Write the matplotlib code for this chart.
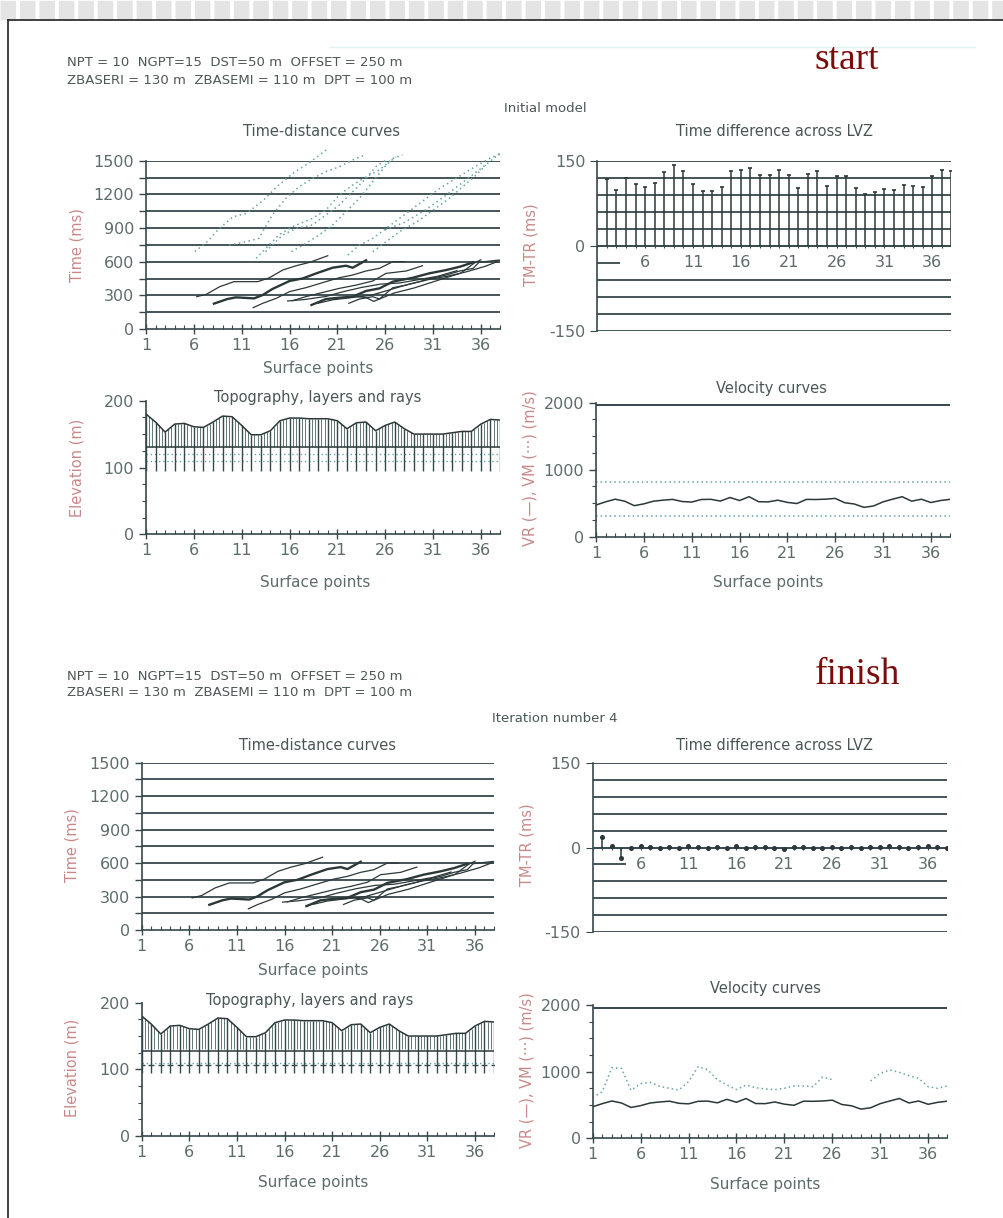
import numpy as np
import matplotlib
matplotlib.use("Agg")
import matplotlib.pyplot as plt
from matplotlib.lines import Line2D

W, H = 1004, 1218

# ---------------- data ----------------
surface_points = list(range(1, 39))
xtick_vals = [1, 6, 11, 16, 21, 26, 31, 36]

# observed first-break time-distance curves (surface point, ms)
obs1_x = [6.3, 7.3, 8.7, 10.2, 12.7, 13.9, 15.3, 16.7, 18.1, 20.0]
obs1_t = [288, 309, 377, 422, 422, 457, 526, 564, 594, 653]
obs2_x = [8.1, 9.5, 10.4, 12.3, 13.2, 14.2, 16.0, 17.4, 18.8, 20.5, 21.9, 22.6, 24.0]
obs2_t = [226, 267, 282, 273, 303, 356, 428, 451, 496, 546, 564, 546, 612]
obs3_x = [12.2, 13.2, 14.6, 16.0, 17.7, 19.8, 21.2, 22.6, 24.0, 25.4, 26.8, 28.0]
obs3_t = [190, 229, 273, 333, 368, 422, 457, 481, 517, 541, 600, 600]
obs4_x = [16.3, 17.7, 19.1, 21.2, 23.0, 24.7, 26.1, 28.2, 29.9]
obs4_t = [252, 288, 318, 362, 392, 428, 496, 517, 564]
obs5_x = [18.3, 19.8, 21.2, 22.6, 24.0, 25.4, 26.8, 28.9, 30.6, 32.4, 33.8, 35.2]
obs5_t = [214, 267, 279, 288, 339, 362, 422, 457, 496, 526, 555, 594]
obs6_x = [22.2, 23.3, 24.7, 25.4, 26.8, 28.2, 29.6, 31.0, 32.4, 33.8, 35.2, 35.8, 37.9]
obs6_t = [229, 267, 288, 267, 368, 392, 422, 457, 481, 517, 541, 594, 615]
obs7_x = [23.0, 24.0, 24.8, 26.9, 29.0, 31.7, 33.9, 35.3, 36.0]
obs7_t = [290, 280, 246, 320, 365, 439, 498, 587, 617]
obs8_x = [15.8, 17.5, 19.8, 21.5, 23.5, 25.5, 27.5, 29.5, 31.5, 33.5]
obs8_t = [250, 262, 290, 330, 370, 400, 410, 440, 470, 520]
obs9_x = [19.0, 20.5, 22.5, 24.5, 26.5, 28.5, 30.5, 32.5, 34.5, 36.5, 38.0]
obs9_t = [230, 260, 280, 300, 350, 400, 440, 470, 510, 560, 610]
thick_curves = [2, 5]

# initial-model computed times (dotted, start only)
mod1_x = [6.1, 7.3, 8.7, 10.1, 11.5, 13.3, 14.7, 16.4, 18.2, 19.9]
mod1_t = [690, 770, 900, 1000, 1030, 1150, 1270, 1390, 1490, 1600]
mod2_x = [9.7, 11.5, 12.8, 14.2, 15.6, 17.0, 18.4, 19.8, 21.2, 22.6, 24.0]
mod2_t = [748, 778, 808, 1016, 1164, 1268, 1342, 1402, 1446, 1506, 1556]
mod3_x = [12.5, 14.9, 16.3, 18.4, 19.8, 21.2, 22.6, 24.0, 25.4, 26.8, 27.8]
mod3_t = [630, 838, 912, 986, 1060, 1194, 1283, 1357, 1417, 1520, 1550]
mod4_x = [13.5, 15.3, 16.7, 18.4, 19.8, 21.2, 22.6, 24.0, 25.0, 26.1]
mod4_t = [689, 838, 897, 927, 1016, 1105, 1224, 1342, 1446, 1506]
mod5_x = [16.2, 17.7, 19.1, 20.5, 21.9, 23.3, 24.7, 26.1, 27.1]
mod5_t = [689, 763, 838, 927, 1045, 1164, 1313, 1461, 1535]
mod6_x = [22.1, 23.3, 24.7, 26.1, 27.5, 28.9, 30.3, 31.7, 33.4, 35.1, 36.9, 38.0]
mod6_t = [659, 748, 808, 897, 986, 1075, 1164, 1253, 1342, 1432, 1520, 1560]
mod7_x = [24.7, 26.1, 27.5, 29.6, 31.0, 32.7, 34.1, 35.5, 36.5]
mod7_t = [689, 778, 867, 971, 1060, 1164, 1268, 1372, 1461]
mod8_x = [26.0, 28.0, 30.0, 32.0, 34.0, 36.0, 38.0]
mod8_t = [883, 950, 1050, 1170, 1300, 1430, 1565]

# time difference across LVZ at surface points 2..38 (ms)
tdiff_points = surface_points[1:]
tdiff_start = [117, 98, 119, 109, 104, 110, 130, 142, 131, 109, 96, 97, 103, 131,
               133, 138, 124, 124, 133, 125, 102, 126, 131, 106, 123, 123, 102, 92,
               95, 100, 99, 107, 106, 103, 123, 133, 131]
tdiff_finish = [18, 2, -18, 0, 2, 1, 0, 1, 0, 2, 1, 0, 1, 0, 2, 0, 1, 1, 0, -2, 1,
                1, 0, 0, 1, 0, 1, 0, 1, 1, 2, 1, 0, 1, 2, 1, 0]

# topography (m)
topography = [180, 168, 153, 165, 166, 161, 160, 168, 177, 176, 163, 149, 149, 155,
              170, 174, 174, 173, 173, 173, 170, 158, 167, 168, 155, 163, 168, 158,
              150, 150, 150, 150, 152, 154, 154, 165, 172, 171]
zbaseri = 130
zbasemi = 110
z_start_mid = 120
ray_bottom = 95

# velocities (m/s)
vr = [473, 520, 560, 530, 463, 490, 530, 545, 557, 525, 517, 555, 558, 532, 585,
      540, 597, 522, 520, 545, 512, 495, 557, 555, 560, 572, 507, 488, 438, 458,
      520, 560, 597, 530, 560, 510, 540, 557]
vm_finish = [610, 700, 1060, 1050, 720, 820, 840, 780, 750, 725, 850, 1075, 1030,
             880, 800, 730, 800, 760, 740, 730, 750, 785, 785, 775, 920, 880,
             np.nan, np.nan, np.nan, 860, 975, 1025, 990, 940, 900, 775, 750, 785]
vm_start_high = 810
vm_start_low = 305
vh_level = 1960

obs_curves = [(obs1_x, obs1_t), (obs2_x, obs2_t), (obs3_x, obs3_t), (obs4_x, obs4_t),
              (obs5_x, obs5_t), (obs6_x, obs6_t), (obs7_x, obs7_t), (obs8_x, obs8_t),
              (obs9_x, obs9_t)]
mod_curves = [(mod1_x, mod1_t), (mod2_x, mod2_t), (mod3_x, mod3_t), (mod4_x, mod4_t),
              (mod5_x, mod5_t), (mod6_x, mod6_t), (mod7_x, mod7_t), (mod8_x, mod8_t)]

# ---------------- style ----------------
LINE = "#36484a"
TXT = "#5f6c6c"
YLAB = "#c98888"
TITLE = "#4a5656"
DOTC = "#6aa3a6"
FONT = "DejaVu Sans"
plt.rcParams["font.family"] = FONT

fig = plt.figure(figsize=(W / 100, H / 100), dpi=100)
fig.patch.set_facecolor("white")


def px_axes(x0, ytop, x1, ybot):
    return fig.add_axes([x0 / W, 1 - ybot / H, (x1 - x0) / W, (ybot - ytop) / H])


def ftext(x, y, s, **kw):
    kw.setdefault("ha", "center")
    kw.setdefault("va", "center")
    fig.text(x / W, 1 - y / H, s, **kw)


def base_style(ax, ylim, yticks, ylabels, yminor=None):
    ax.set_xlim(1, 38)
    ax.set_ylim(*ylim)
    for s in ["top", "right"]:
        ax.spines[s].set_visible(False)
    for s in ["left", "bottom"]:
        ax.spines[s].set_color(LINE)
        ax.spines[s].set_linewidth(1.2)
    ax.set_xticks(xtick_vals)
    ax.set_xticklabels([str(v) for v in xtick_vals])
    ax.set_xticks(surface_points, minor=True)
    ax.set_yticks(yticks)
    ax.set_yticklabels(ylabels)
    if yminor is not None:
        ax.set_yticks(yminor, minor=True)
    ax.tick_params(axis="both", which="major", colors=LINE, labelcolor=TXT,
                   labelsize=11.5, length=5, width=1.0)
    ax.tick_params(axis="x", which="major", direction="inout", length=7, pad=3)
    ax.tick_params(axis="x", which="minor", direction="in", length=3, width=0.8,
                   color=LINE)
    ax.tick_params(axis="y", which="minor", direction="out", length=3, width=0.8,
                   color=LINE)
    ax.set_facecolor("none")


def time_distance(ax, with_model):
    base_style(ax, (0, 1500), list(range(0, 1501, 150)),
               [str(v) if v % 300 == 0 else "" for v in range(0, 1501, 150)])
    for v in range(150, 1501, 150):
        ax.axhline(v, color=LINE, lw=1.3, zorder=1)
    for i, (cx, ct) in enumerate(obs_curves, start=1):
        ax.plot(cx, ct, color="#2c3838", lw=1.7 if i in thick_curves else 0.9,
                zorder=3)
    if with_model:
        for cx, ct in mod_curves:
            ax.plot(cx, ct, color=DOTC, lw=1.1, ls=(0, (1, 2.2)), zorder=2,
                    clip_on=False)


def time_diff(ax, vals, finish, gap_end):
    ax.set_xlim(1, 38)
    ax.set_ylim(-150, 150)
    for s in ["top", "right", "bottom"]:
        ax.spines[s].set_visible(False)
    ax.spines["left"].set_color(LINE)
    ax.spines["left"].set_linewidth(1.2)
    ax.set_xticks([])
    ax.set_yticks([-150, 0, 150])
    ax.set_yticklabels(["-150", "0", "150"])
    ax.tick_params(axis="y", colors=LINE, labelcolor=TXT, labelsize=11.5, length=5)
    ax.set_facecolor("none")
    for v in [-150, -120, -90, -60, 30, 60, 90, 120, 150]:
        ax.axhline(v, color=LINE, lw=1.3, zorder=1)
    ax.hlines(-30, 1, gap_end, color=LINE, lw=1.3)
    ax.axhline(0, color=LINE, lw=1.4, zorder=2)
    ax.vlines(surface_points, 0, -4, color=LINE, lw=0.8)
    ax.vlines(tdiff_points, 0, vals, color="#2c3838", lw=1.1, zorder=3)
    if finish:
        ax.plot(tdiff_points, vals, ls="none", marker="o", ms=2.6, color="#2c3838",
                zorder=4)
    else:
        ax.plot(tdiff_points, vals, ls="none", marker="_", ms=3, mew=1.2,
                color="#2c3838", zorder=4)
    for v in xtick_vals[1:]:
        ax.text(v, -30, str(v), ha="center", va="center", fontsize=11.5, color=TXT,
                zorder=5)


def topo_panel(ax, finish):
    base_style(ax, (0, 200), [0, 100, 200], ["0", "100", "200"],
               yminor=list(range(0, 201, 25)))
    ax.plot(surface_points, topography, color="#2c3838", lw=1.1, zorder=4)
    ax.hlines(zbaseri if not finish else zbaseri - 2, 1, 38, color="#2c3838",
              lw=1.1, zorder=4)
    ax.hlines(zbasemi, 1, 38, color=DOTC, lw=1.0, ls=(0, (1, 2)), zorder=3)
    if not finish:
        ax.hlines(z_start_mid, 1, 38, color=DOTC, lw=1.0, ls=(0, (1, 2)), zorder=3)
    ax.vlines(surface_points, ray_bottom, topography, color="#34494b", lw=1.0,
              zorder=3)
    sp = np.array(surface_points, dtype=float)
    for frac in (0.33, 0.66):
        xr = sp[:-1] + frac
        ax.vlines(xr, zbaseri, np.interp(xr, sp, topography), color="#4b5f61",
                  lw=0.6, zorder=2)
    if finish:
        ax.plot(surface_points, [zbasemi - 3] * len(surface_points), ls="none",
                marker="_", ms=5, mew=1.0, color="#34494b", zorder=4)


def vel_panel(ax, vm):
    base_style(ax, (0, 2000), [0, 1000, 2000], ["0", "1000", "2000"],
               yminor=list(range(0, 2001, 250)))
    ax.axhline(vh_level, color=LINE, lw=1.4)
    ax.plot(surface_points, vr, color="#2c3838", lw=1.1, zorder=3)
    if vm is None:
        ax.axhline(vm_start_high, color=DOTC, lw=1.1, ls=(0, (1, 2)))
        ax.axhline(vm_start_low, color=DOTC, lw=1.1, ls=(0, (1, 2)))
    else:
        ax.plot(surface_points, vm, color=DOTC, lw=1.1, ls=(0, (1, 2)))


# ---------------- top block ("start") ----------------
ax = px_axes(146, 160.7, 500, 329)
time_distance(ax, True)
ax = px_axes(597.3, 160.7, 951.5, 330.7)
time_diff(ax, tdiff_start, False, 3.4)
ax = px_axes(146, 400.7, 500, 534.3)
topo_panel(ax, False)
ax = px_axes(596, 402.7, 950, 536.7)
vel_panel(ax, None)

# ---------------- bottom block ("finish") ----------------
ax = px_axes(141.7, 762.7, 494, 930)
time_distance(ax, False)
ax = px_axes(592.7, 763.3, 946.7, 931.7)
time_diff(ax, tdiff_finish, True, 4.5)
ax = px_axes(141.7, 1002.7, 494, 1136)
topo_panel(ax, True)
ax = px_axes(592.7, 1005, 947.3, 1138.3)
vel_panel(ax, vm_finish)

# ---------------- texts ----------------
hdr1 = "NPT = 10  NGPT=15  DST=50 m  OFFSET = 250 m"
hdr2 = "ZBASERI = 130 m  ZBASEMI = 110 m  DPT = 100 m"
for dy, label, lx, ly in [(0, "start", 847, 60), (613, "finish", 858, 675)]:
    ftext(67, 63 + dy, hdr1, ha="left", fontsize=9.5, color="#4e5656")
    ftext(67, 80 + dy, hdr2, ha="left", fontsize=9.5, color="#4e5656")
    ftext(lx, ly, label, fontsize=27, color="#7a0c0c", family="Liberation Serif")

ftext(545, 109, "Initial model", fontsize=9.5, color=TITLE)
ftext(555, 719, "Iteration number 4", fontsize=9.5, color=TITLE)

titles = [("Time-distance curves", 322, 131), ("Time difference across LVZ", 775, 131),
          ("Topography, layers and rays", 318, 398), ("Velocity curves", 771, 388),
          ("Time-distance curves", 318, 745), ("Time difference across LVZ", 775, 746),
          ("Topography, layers and rays", 310, 1000), ("Velocity curves", 765, 989)]
for s, x, y in titles:
    ftext(x, y, s, fontsize=10.5, color=TITLE)

for x, y in [(318, 368), (315, 583), (768, 583), (313, 970), (313, 1182), (765, 1184)]:
    ftext(x, y, "Surface points", fontsize=11, color=TXT)

ylabels = [("Time (ms)", 77, 245), ("TM-TR (ms)", 531, 245),
           ("Elevation (m)", 77, 468), ("VR (—), VM (···) (m/s)", 530, 468),
           ("Time (ms)", 72, 845), ("TM-TR (ms)", 527, 845),
           ("Elevation (m)", 72, 1068), ("VR (—), VM (···) (m/s)", 527, 1070)]
for s, x, y in ylabels:
    ftext(x, y, s, fontsize=10.5, color=YLAB, rotation=90)

# page frame and scan band
fig.add_artist(Line2D([0, 1], [1 - 10 / H, 1 - 10 / H], transform=fig.transFigure,
                      color="#e4e4e4", lw=14, dashes=(0.8, 0.2)))
fig.add_artist(Line2D([8 / W, 1], [1 - 20 / H, 1 - 20 / H], transform=fig.transFigure,
                      color="#222222", lw=1.2))
fig.add_artist(Line2D([8 / W, 8 / W], [0, 1 - 20 / H], transform=fig.transFigure,
                      color="#222222", lw=1.2))
fig.add_artist(Line2D([330 / W, 975 / W], [1 - 47 / H, 1 - 47 / H],
                      transform=fig.transFigure, color="#e0f2f5", lw=1.0))

fig.savefig("out.png", dpi=100, facecolor="white")
